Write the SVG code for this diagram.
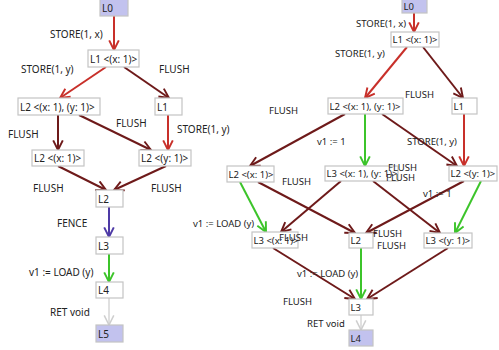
<svg xmlns="http://www.w3.org/2000/svg" width="499" height="350" viewBox="0 0 499 350">
  <style>
    .box { fill: #ffffff; stroke: #c4c4c4; stroke-width: 1.2; }
    .start { fill: #c2c2ee; stroke: #c4c4c4; stroke-width: 1.2; }
    text { font-family: "Noto Sans", "Open Sans", sans-serif; fill: #222222; dominant-baseline: central; }
    .l text { font-size: 10px; }
    .r text { font-size: 9.5px; }
    line { fill: none; }
    .red { stroke: #c8302a; stroke-width: 2; marker-end: url(#a-red); }
    .dark { stroke: #6e1a1a; stroke-width: 2; marker-end: url(#a-dark); }
    .green { stroke: #3cc42a; stroke-width: 2; marker-end: url(#a-green); }
    .fence { stroke: #4e3aa6; stroke-width: 2; marker-end: url(#a-fence); }
    .ret { stroke: #cfcfcf; stroke-width: 1.3; marker-end: url(#a-ret); }
  </style>
  <defs>
    <marker id="a-red" markerUnits="userSpaceOnUse" markerWidth="12" markerHeight="12" refX="9" refY="5" orient="auto" viewBox="0 0 10 10">
      <path d="M1,1 L9,5 L1,9" fill="none" stroke="#c8302a" stroke-width="1.6"/>
    </marker>
    <marker id="a-dark" markerUnits="userSpaceOnUse" markerWidth="12" markerHeight="12" refX="9" refY="5" orient="auto" viewBox="0 0 10 10">
      <path d="M1,1 L9,5 L1,9" fill="none" stroke="#6e1a1a" stroke-width="1.6"/>
    </marker>
    <marker id="a-green" markerUnits="userSpaceOnUse" markerWidth="12" markerHeight="12" refX="9" refY="5" orient="auto" viewBox="0 0 10 10">
      <path d="M1,1 L9,5 L1,9" fill="none" stroke="#3cc42a" stroke-width="1.6"/>
    </marker>
    <marker id="a-fence" markerUnits="userSpaceOnUse" markerWidth="12" markerHeight="12" refX="9" refY="5" orient="auto" viewBox="0 0 10 10">
      <path d="M1,1 L9,5 L1,9" fill="none" stroke="#4e3aa6" stroke-width="1.6"/>
    </marker>
    <marker id="a-ret" markerUnits="userSpaceOnUse" markerWidth="12" markerHeight="12" refX="9" refY="5" orient="auto" viewBox="0 0 10 10">
      <path d="M1,1 L9,5 L1,9" fill="none" stroke="#cfcfcf" stroke-width="1.3"/>
    </marker>
  </defs>

  <rect width="499" height="350" fill="#ffffff"/>

  <!-- connectors -->
  <g id="connectors">
    <!-- left graph -->
    <line class="red" x1="114" y1="16" x2="114" y2="50"/>
    <line class="red" x1="106" y1="67" x2="60" y2="98"/>
    <line class="dark" x1="124" y1="67" x2="169" y2="98"/>
    <line class="dark" x1="58" y1="115" x2="58" y2="150"/>
    <line class="dark" x1="79" y1="115" x2="151" y2="150"/>
    <line class="red" x1="168" y1="115" x2="168" y2="150"/>
    <line class="dark" x1="58" y1="166" x2="106" y2="190"/>
    <line class="dark" x1="166" y1="166" x2="114" y2="190"/>
    <line class="fence" x1="109" y1="207" x2="109" y2="237"/>
    <line class="green" x1="109" y1="254" x2="109" y2="282"/>
    <line class="ret" x1="109" y1="298" x2="109" y2="325"/>
    <!-- right graph -->
    <line class="red" x1="414" y1="13" x2="414" y2="32"/>
    <line class="red" x1="407" y1="47" x2="365" y2="98"/>
    <line class="dark" x1="423" y1="47" x2="463" y2="98"/>
    <line class="dark" x1="345" y1="114" x2="250" y2="166"/>
    <line class="green" x1="365" y1="114" x2="365" y2="166"/>
    <line class="dark" x1="382" y1="114" x2="457" y2="166"/>
    <line class="red" x1="464" y1="114" x2="464" y2="166"/>
    <line class="green" x1="240" y1="182" x2="266" y2="232"/>
    <line class="dark" x1="258" y1="182" x2="355" y2="233"/>
    <line class="dark" x1="341" y1="181" x2="281" y2="232"/>
    <line class="dark" x1="373" y1="181" x2="440" y2="233"/>
    <line class="dark" x1="464" y1="181" x2="366" y2="233"/>
    <line class="green" x1="481" y1="181" x2="455" y2="233"/>
    <line class="dark" x1="273" y1="248" x2="355" y2="299"/>
    <line class="green" x1="361" y1="248" x2="361" y2="299"/>
    <line class="dark" x1="448" y1="248" x2="367" y2="299"/>
    <line class="ret" x1="361" y1="315" x2="361" y2="330"/>
  </g>

  <!-- left graph nodes -->
  <g class="l">
    <g id="a-L0"><rect class="start" x="100" y="-1" width="28" height="17"/><text x="102" y="8">L0</text></g>
    <g id="a-L1x"><rect class="box" x="88" y="50" width="51" height="17"/><text x="90" y="58.5">L1 &lt;(x: 1)&gt;</text></g>
    <g id="a-L2xy"><rect class="box" x="18" y="98" width="82" height="17"/><text x="20" y="106.5">L2 &lt;(x: 1), (y: 1)&gt;</text></g>
    <g id="a-L1"><rect class="box" x="155" y="98" width="27" height="17"/><text x="157" y="106.5">L1</text></g>
    <g id="a-L2x"><rect class="box" x="32" y="150" width="52" height="16"/><text x="34" y="158">L2 &lt;(x: 1)&gt;</text></g>
    <g id="a-L2y"><rect class="box" x="139" y="150" width="52" height="16"/><text x="141" y="158">L2 &lt;(y: 1)&gt;</text></g>
    <g id="a-L2"><rect class="box" x="96" y="190" width="27" height="17"/><text x="98" y="198.5">L2</text></g>
    <g id="a-L3"><rect class="box" x="96" y="237" width="27" height="17"/><text x="98" y="245.5">L3</text></g>
    <g id="a-L4"><rect class="box" x="96" y="282" width="27" height="16"/><text x="98" y="290">L4</text></g>
    <g id="a-L5"><rect class="start" x="96" y="325" width="27" height="17"/><text x="98" y="333.5">L5</text></g>
  </g>

  <!-- right graph nodes -->
  <g class="r">
    <g id="b-L0"><rect class="start" x="402" y="-1" width="25" height="14"/><text x="403.5" y="6">L0</text></g>
    <g id="b-L1x"><rect class="box" x="391" y="32" width="48" height="15"/><text x="392.5" y="39.5">L1 &lt;(x: 1)&gt;</text></g>
    <g id="b-L2xy"><rect class="box" x="328" y="98" width="75" height="16"/><text x="329.5" y="106">L2 &lt;(x: 1), (y: 1)&gt;</text></g>
    <g id="b-L1"><rect class="box" x="452" y="98" width="25" height="16"/><text x="453.5" y="106">L1</text></g>
    <g id="b-L2x"><rect class="box" x="227" y="166" width="47" height="16"/><text x="228.5" y="174">L2 &lt;(x: 1)&gt;</text></g>
    <g id="b-L3xy"><rect class="box" x="325" y="166" width="73" height="15"/><text x="326.5" y="173.5">L3 &lt;(x: 1), (y: 1)&gt;</text></g>
    <g id="b-L2y"><rect class="box" x="449" y="166" width="48" height="15"/><text x="450.5" y="173.5">L2 &lt;(y: 1)&gt;</text></g>
    <g id="b-L3x"><rect class="box" x="252" y="232" width="46" height="16"/><text x="253.5" y="240">L3 &lt;(x: 1)&gt;</text></g>
    <g id="b-L2"><rect class="box" x="349" y="233" width="24" height="15"/><text x="350.5" y="240.5">L2</text></g>
    <g id="b-L3y"><rect class="box" x="424" y="233" width="48" height="15"/><text x="425.5" y="240.5">L3 &lt;(y: 1)&gt;</text></g>
    <g id="b-L3"><rect class="box" x="349" y="299" width="24" height="16"/><text x="350.5" y="307">L3</text></g>
    <g id="b-L4"><rect class="start" x="349" y="330" width="24" height="16"/><text x="350.5" y="338">L4</text></g>
  </g>

  <!-- connector labels -->
  <g id="edge-labels">
    <g class="l">
      <text x="50" y="34">STORE(1, x)</text>
      <text x="21" y="69">STORE(1, y)</text>
      <text x="159" y="69">FLUSH</text>
      <text x="8" y="134">FLUSH</text>
      <text x="116" y="123">FLUSH</text>
      <text x="177" y="129">STORE(1, y)</text>
      <text x="33" y="188">FLUSH</text>
      <text x="151" y="188">FLUSH</text>
      <text x="57" y="223">FENCE</text>
      <text x="29" y="272">v1 := LOAD (y)</text>
      <text x="50" y="312">RET void</text>
    </g>
    <g class="r">
      <text x="356" y="23">STORE(1, x)</text>
      <text x="335" y="53">STORE(1, y)</text>
      <text x="405" y="94">FLUSH</text>
      <text x="269" y="110">FLUSH</text>
      <text x="317" y="141">v1 := 1</text>
      <text x="407" y="141">STORE(1, y)</text>
      <text x="388" y="167">FLUSH</text>
      <text x="386" y="177">FLUSH</text>
      <text x="282" y="181">FLUSH</text>
      <text x="423" y="193">v1 := 1</text>
      <text x="193" y="223">v1 := LOAD (y)</text>
      <text x="279" y="237">FLUSH</text>
      <text x="373" y="233">FLUSH</text>
      <text x="377" y="245">FLUSH</text>
      <text x="297" y="273">v1 := LOAD (y)</text>
      <text x="283" y="301">FLUSH</text>
      <text x="307" y="323">RET void</text>
    </g>
  </g>
</svg>
